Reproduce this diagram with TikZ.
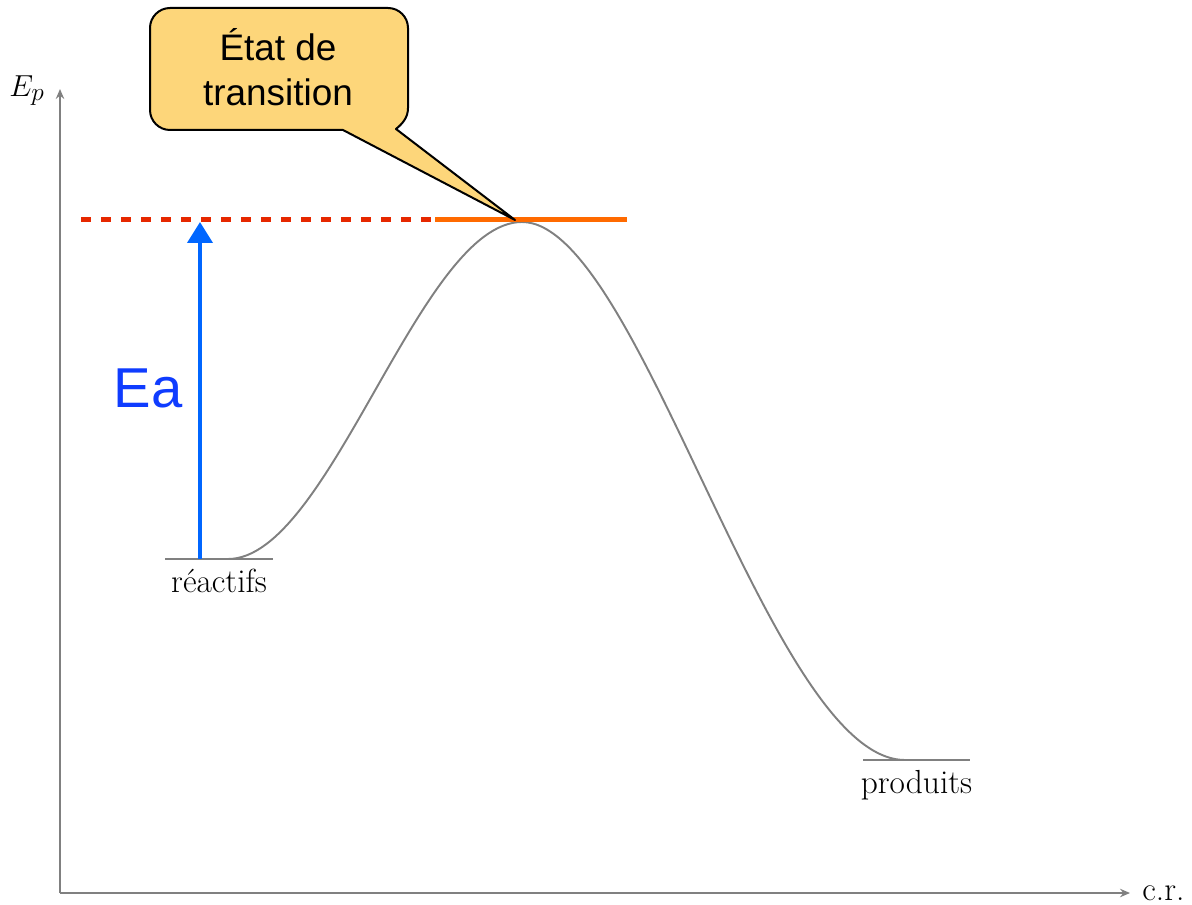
\documentclass[tikz,border=0pt]{standalone}
\usepackage{fontspec}
\newfontfamily\calloutfont{Liberation Sans}
\usetikzlibrary{arrows.meta,calc,positioning}
\definecolor{eablue}{RGB}{0,102,255}
\definecolor{eatext}{RGB}{15,60,255}
\definecolor{dashred}{RGB}{230,40,0}
\definecolor{tsorange}{RGB}{255,106,0}
\definecolor{bubble}{RGB}{253,214,122}

\begin{document}
\begin{tikzpicture}[
x=0.2mm, y=-0.2mm,
axis/.style = {draw=gray, line width=0.8pt,
               -{Stealth[length=2mm,width=1.7mm]}},
level/.style = {draw=gray, line width=1.1pt},
curve/.style = {draw=gray, line width=1.1pt},
lbl/.style = {font=\fontsize{19}{22}\selectfont, inner sep=0pt},
callout/.style = {draw, line width=0.4mm, fill=bubble, line join=round},
ealine/.style = {draw=eablue, line width=0.8mm,
                 -{Triangle[length=4.2mm,width=5mm]}}
                ]
\useasboundingbox (0,0) rectangle (1192,905);

%% axes
\coordinate (origin) at (60,893);
\coordinate (ytop) at (60,89);
\coordinate (xend) at (1130,893);
\draw [axis] (origin) -- (ytop);
\draw [axis] (origin) -- (xend);
\node (ep) [lbl, left=3mm of ytop, yshift=-0.3mm] {$E_p$};
\node (cr) [lbl, right=2.4mm of xend] {c.r.};

%% levels
\coordinate (reacL) at (165,559);
\coordinate (reacR) at (273,559);
\coordinate (prodL) at (863,760);
\coordinate (prodR) at (970,760);
\draw [level] (reacL) -- (reacR);
\draw [level] (prodL) -- (prodR);
\coordinate (reacM) at ($(reacL)!0.5!(reacR)$);
\coordinate (prodM) at ($(prodL)!0.5!(prodR)$);
\node (reaclbl) [lbl, below=2mm of reacM] {réactifs};
\node (prodlbl) [lbl, below=2mm of prodM] {produits};

%% energy profile
\coordinate (reac) at (228,559);
\coordinate (ts) at (522,222);
\coordinate (prod) at (905,760);
\draw [curve] (reac) .. controls (330,559) and (420,222) .. (ts)
              .. controls (640,222) and (770,760) .. (prod);

%% activation level
\coordinate (dashL) at (81,220);
\coordinate (tsL) at (435,220);
\coordinate (tsR) at (627,220);
\coordinate (tip) at (515,220);
\draw [dashred, line width=1mm, dash pattern=on 2mm off 2mm] (dashL) -- (tsL);
\draw [tsorange, line width=1mm] (tsL) -- (tsR);

\coordinate (eabot) at (200,559);
\coordinate (eatop) at (200,222);
\draw [ealine] (eabot) -- (eatop);
\node (ea) [text=eatext, font=\calloutfont\fontsize{32}{38}\selectfont,
            inner sep=0pt] at (148,388) {Ea};

%% callout
\path [callout] (343,130) -- (170,130) .. controls (159,130) and (150,121) .. (150,110)
      -- (150,28) .. controls (150,17) and (159,8) .. (170,8) -- (388,8)
      .. controls (399,8) and (408,17) .. (408,28) -- (408,108)
      .. controls (408,118) and (402,124) .. (396,129) -- (tip) -- cycle;
\node (tslbl) [align=center, inner sep=0pt,
               font=\calloutfont\fontsize{21}{25.5}\selectfont]
      at (278,67) {État de\\transition};
\end{tikzpicture}
\end{document}
